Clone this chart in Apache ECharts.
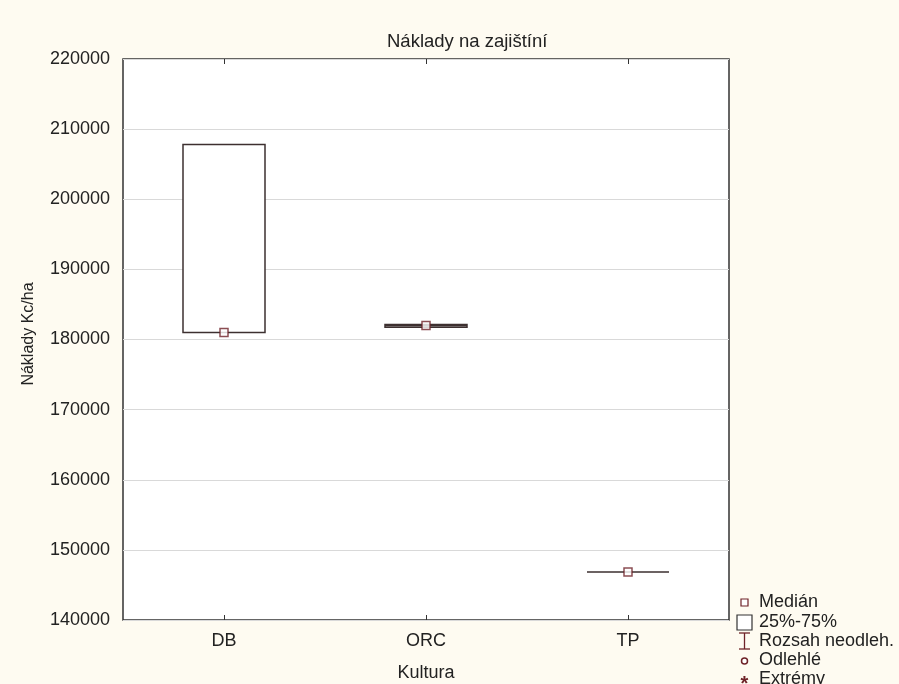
<!DOCTYPE html>
<html>
<head>
<meta charset="utf-8">
<script src="https://cdn.jsdelivr.net/npm/echarts@6/dist/echarts.min.js"></script>
<style>
  html, body { margin: 0; padding: 0; background: #fefbf1; }
  #main { width: 899px; height: 684px; }
</style>
</head>
<body>
<div id="main"></div>
<script>
// categories and box statistics (Kc/ha)
const categories = ["DB", "ORC", "TP"];
const minVals = [181000, 181750, 146850];
const q1Vals = [181000, 181750, 146850];
const medianVals = [181000, 182000, 146850];
const q3Vals = [207800, 182150, 146850];
const maxVals = [207800, 182150, 146850];
const legendLabels = ["Medián", "25%-75%", "Rozsah neodleh.", "Odlehlé", "Extrémy"];

const FONT = "Liberation Sans, Arial, sans-serif";
const DARKRED = "#6e2228";

const boxData = categories.map((c, i) => [minVals[i], q1Vals[i], medianVals[i], q3Vals[i], maxVals[i]]);

const chart = echarts.init(document.getElementById("main"));

// legend drawn as graphic (Statistica style)
const legendY = [602, 622, 641, 660, 679];
const legendGraphic = [
  { type: "rect", shape: { x: 741, y: legendY[0] - 3, width: 7, height: 7 }, style: { fill: "#fff", stroke: DARKRED, lineWidth: 1.2 } },
  { type: "rect", shape: { x: 737, y: legendY[1] - 7, width: 15, height: 15 }, style: { fill: "#fff", stroke: "#333", lineWidth: 1.2 } },
  { type: "polyline", shape: { points: [[739, legendY[2] - 8], [750, legendY[2] - 8]] }, style: { stroke: DARKRED, lineWidth: 1.3 } },
  { type: "polyline", shape: { points: [[744.5, legendY[2] - 8], [744.5, legendY[2] + 8]] }, style: { stroke: DARKRED, lineWidth: 1.3 } },
  { type: "polyline", shape: { points: [[739, legendY[2] + 8], [750, legendY[2] + 8]] }, style: { stroke: DARKRED, lineWidth: 1.3 } },
  { type: "circle", shape: { cx: 744.5, cy: legendY[3] + 1, r: 3 }, style: { fill: "#fff", stroke: DARKRED, lineWidth: 1.5 } },
  { type: "text", x: 744.5, y: legendY[4] + 5, style: { text: "*", fill: DARKRED, font: "bold 20px " + FONT, align: "center", verticalAlign: "middle" } },
  // y axis title
  { type: "text", x: 29, y: 334, rotation: Math.PI / 2,
    style: { text: "Náklady Kc/ha", fill: "#222", font: "16px " + FONT, align: "center", verticalAlign: "middle" } }
];
legendLabels.forEach((t, i) => {
  legendGraphic.push({
    type: "text", x: 759, y: legendY[i],
    style: { text: t, fill: "#222", font: "18px " + FONT, verticalAlign: "middle" }
  });
});

chart.setOption({
  backgroundColor: "#fefbf1",
  animation: false,
  title: {
    text: "Náklady na zajištíní",
    left: 382,
    top: 27,
    textStyle: { fontFamily: FONT, fontSize: 18.5, fontWeight: "normal", color: "#222" }
  },
  grid: {
    left: 123, right: 170, top: 59, bottom: 64,
    containLabel: false,
    outerBoundsMode: "none",
    show: true, backgroundColor: "#fff", borderColor: "#333", borderWidth: 1.5
  },
  xAxis: [
    {
      type: "category",
      data: categories,
      position: "bottom",
      name: "Kultura",
      nameLocation: "middle",
      nameGap: 44,
      nameTextStyle: { fontFamily: FONT, fontSize: 18, color: "#222" },
      axisLine: { show: false },
      axisTick: { show: true, inside: true, alignWithLabel: true, length: 5, lineStyle: { color: "#333" } },
      axisLabel: { fontFamily: FONT, fontSize: 18, color: "#222", margin: 12 },
      splitLine: { show: false }
    },
    {
      type: "category",
      data: categories,
      position: "top",
      axisLine: { show: false },
      axisTick: { show: true, inside: true, alignWithLabel: true, length: 5, lineStyle: { color: "#333" } },
      axisLabel: { show: false },
      splitLine: { show: false }
    }
  ],
  yAxis: {
    type: "value",
    min: 140000,
    max: 220000,
    interval: 10000,
    axisLine: { show: false },
    axisTick: { show: false },
    axisLabel: { fontFamily: FONT, fontSize: 18, color: "#222", margin: 13, formatter: v => String(v) },
    splitLine: { show: true, lineStyle: { color: "#d9d9d9", width: 1 } }
  },
  graphic: legendGraphic,
  series: [
    {
      type: "boxplot",
      data: boxData,
      boxWidth: [82, 82],
      itemStyle: { color: "#fff", borderColor: "#3d3030", borderWidth: 1.5 },
      emphasis: { disabled: true },
      z: 2
    },
    {
      type: "scatter",
      data: medianVals,
      symbol: "rect",
      symbolSize: 8,
      itemStyle: { color: "#fff", borderColor: DARKRED, borderWidth: 1.5 },
      z: 5
    }
  ]
});
</script>
</body>
</html>
